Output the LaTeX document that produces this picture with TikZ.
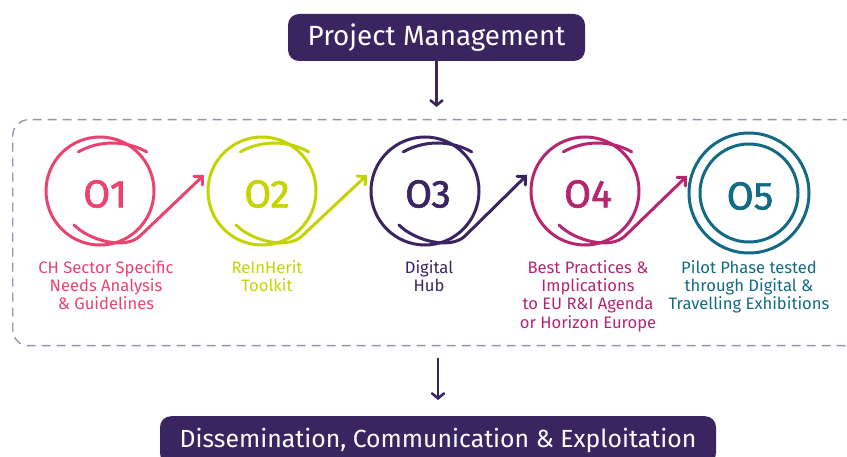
\documentclass[tikz,border=0pt]{standalone}
\usepackage{fontspec}
\setmainfont{Fira Sans}
\newfontfamily\numfont[FakeBold=1.6]{Fira Sans}
\usetikzlibrary{arrows.meta,calc}
\definecolor{pmpurple}{HTML}{3A2560}
\definecolor{cpink}{HTML}{E8446F}
\definecolor{clime}{HTML}{C5D300}
\definecolor{cpurple}{HTML}{3B2462}
\definecolor{cmag}{HTML}{B52570}
\definecolor{cteal}{HTML}{136A85}
\definecolor{dashc}{HTML}{9A93AE}
\begin{document}
\begin{tikzpicture}[x=1pt,y=1pt,
  ring/.style={circle, draw=#1, line width=3pt, minimum size=108pt, inner sep=0pt},
  num/.style={text=#1, inner sep=0pt, font=\numfont\fontsize{39}{39}\selectfont},
  lab/.style={text=#1, align=center, inner sep=0pt, anchor=north, font=\fontsize{16.6}{18.3}\selectfont},
  swoosh/.style={draw=#1, line width=3pt, line cap=round, -{Straight Barb[length=6pt,width=12pt,line cap=round]}},
  arcline/.style={draw=#1, line width=3pt, line cap=round},
  bar/.style={fill=pmpurple, rounded corners=11pt, text=white, inner sep=0pt},
  frame/.style={draw=dashc, line width=1.4pt, dash pattern=on 9pt off 6pt, rounded corners=16pt, inner sep=0pt},
  down/.style={draw=pmpurple, line width=2.5pt, -{Straight Barb[length=5pt,width=12pt,line cap=round]}}]
\useasboundingbox (0,0) rectangle (847,-457);
\clip (0,0) rectangle (847,-457);

% top and bottom bars
\node[bar, minimum width=297pt, minimum height=47pt, font=\fontsize{27.8}{27.8}\selectfont] (pm) at (436.5,-37.5) {Project Management};
\node[frame, minimum width=870pt, minimum height=226pt, anchor=north west] (fr) at (12,-119) {};
\node[bar, minimum width=556pt, minimum height=48pt, anchor=north, font=\fontsize{24.8}{24.8}\selectfont] (dce) at (438,-416) {Dissemination, Communication \& Exploitation};

\draw[down, shorten >=12pt] (pm.south) -- (pm.south |- fr.north);
\draw[down, shorten <=12pt, shorten >=16pt] (dce.north |- fr.south) -- (dce.north);

% circles
\node[ring=cpink] (c1) at (100,-191) {};
\node[ring=clime] (c2) at (262,-191) {};
\node[ring=cpurple] (c3) at (425,-191) {};
\node[ring=cmag] (c4) at (585,-191) {};
\node[ring=cteal, minimum size=120pt] (c5) at (749,-193) {};
\node[ring=cteal, minimum size=98pt] (c5i) at (749,-193) {};

% arrow tips
\coordinate (t2) at ($(c2)+(-58,16)$);
\coordinate (t3) at ($(c3)+(-58,16)$);
\coordinate (t4) at ($(c4)+(-58,16)$);
\coordinate (t5) at ($(c5)+(-62,17)$);

% top arcs
\foreach \c/\col in {c1/cpink, c2/clime, c3/cpurple, c4/cmag}{
  \draw[arcline=\col] ($(\c)+(12.5,-22.6)+(119:70.6)$) arc[start angle=119, end angle=61, radius=70.6];
}
% swooshes
\draw[swoosh=cpink] ($(c1)+(-26,-34)$) .. controls ($(c1)+(-10,-50)$) and ($(c1)+(25.6,-58.9)$) .. ($(c1)+(40,-45)$) -- (t2);
\draw[swoosh=clime] ($(c2)+(-26,-34)$) .. controls ($(c2)+(-10,-50)$) and ($(c2)+(25.6,-58.9)$) .. ($(c2)+(40,-45)$) -- (t3);
\draw[swoosh=cpurple] ($(c3)+(-26,-34)$) .. controls ($(c3)+(-10,-50)$) and ($(c3)+(25.6,-58.9)$) .. ($(c3)+(40,-45)$) -- (t4);
\draw[swoosh=cmag] ($(c4)+(-26,-34)$) .. controls ($(c4)+(-10,-50)$) and ($(c4)+(25.6,-58.9)$) .. ($(c4)+(40,-45)$) -- (t5);

% numbers
\node[num=cpink] (n1) at ($(c1)+(5,-3)$) {O1};
\node[num=clime] (n2) at ($(c2)+(5,-3)$) {O2};
\node[num=cpurple] (n3) at ($(c3)+(3,-3)$) {O3};
\node[num=cmag] (n4) at ($(c4)+(3,-3)$) {O4};
\node[num=cteal] (n5) at ($(c5)+(1,-3)$) {O5};

% labels
\node[lab=cpink] (l1) at (106,-260) {CH Sector Specific\\Needs Analysis\\\& Guidelines};
\node[lab=clime] (l2) at (267,-260) {ReInHerit\\Toolkit};
\node[lab=cpurple] (l3) at (429,-260) {Digital\\Hub};
\node[lab=cmag] (l4) at (588,-260) {Best Practices \&\\Implications\\to EU R\&I Agenda\\or Horizon Europe};
\node[lab=cteal] (l5) at (749,-260) {Pilot Phase tested\\through Digital \&\\Travelling Exhibitions};
\end{tikzpicture}
\end{document}
